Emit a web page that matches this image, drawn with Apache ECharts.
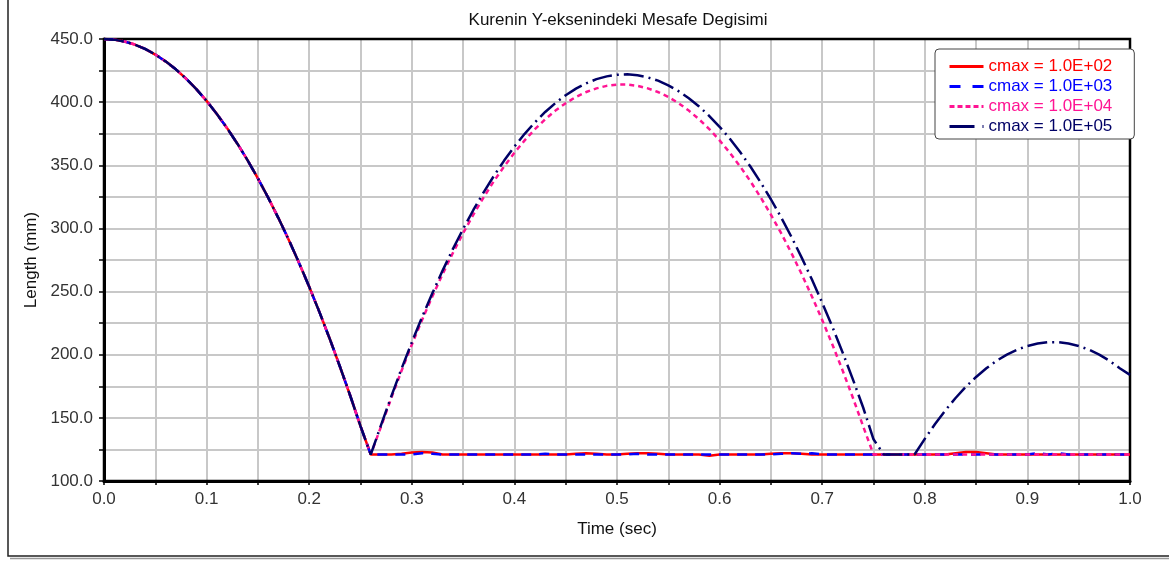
<!DOCTYPE html>
<html>
<head>
<meta charset="utf-8">
<script src="https://cdn.jsdelivr.net/npm/echarts@6/dist/echarts.min.js"></script>
<style>
html,body{margin:0;padding:0;background:#fff;}
#chart{width:1169px;height:563px;}
</style>
</head>
<body>
<div id="chart"></div>
<script>
// ---- data ----
const chartTitle = 'Kurenin Y-eksenindeki Mesafe Degisimi';
const xAxisName = 'Time (sec)';
const yAxisName = 'Length (mm)';
const seriesNames = ['cmax = 1.0E+02', 'cmax = 1.0E+03', 'cmax = 1.0E+04', 'cmax = 1.0E+05'];
const xTickLabels = ['0.0','0.1','0.2','0.3','0.4','0.5','0.6','0.7','0.8','0.9','1.0'];
const yTickLabels = ['100.0','150.0','200.0','250.0','300.0','350.0','400.0','450.0'];

const time = [
  0.00,0.01,0.02,0.03,0.04,0.05,0.06,0.07,0.08,0.09,
  0.10,0.11,0.12,0.13,0.14,0.15,0.16,0.17,0.18,0.19,
  0.20,0.21,0.22,0.23,0.24,0.25,0.26,0.27,0.28,0.29,
  0.30,0.31,0.32,0.33,0.34,0.35,0.36,0.37,0.38,0.39,
  0.40,0.41,0.42,0.43,0.44,0.45,0.46,0.47,0.48,0.49,
  0.50,0.51,0.52,0.53,0.54,0.55,0.56,0.57,0.58,0.59,
  0.60,0.61,0.62,0.63,0.64,0.65,0.66,0.67,0.68,0.69,
  0.70,0.71,0.72,0.73,0.74,0.75,0.76,0.77,0.78,0.79,
  0.80,0.81,0.82,0.83,0.84,0.85,0.86,0.87,0.88,0.89,
  0.90,0.91,0.92,0.93,0.94,0.95,0.96,0.97,0.98,0.99,
  1.00
];

// common free-fall part (t = 0.00 .. 0.26)
const fallPart = [450.0,449.5,448.0,445.6,442.2,437.7,432.3,426.0,418.6,410.3,
  401.0,390.6,379.4,367.1,353.9,339.6,324.4,308.2,291.1,272.9,
  253.8,233.7,212.6,190.5,167.5,143.4,121.0];

// t = 0.27 .. 1.00
const cmax1e2 = [121,121,121.5,122.5,123,122.5,121,121,121,121,
  121,121,121,121,121,121,121,121,121,121.5,
  122,121.5,121,121,121.5,122,122,121.5,121,121,
  121,121,120,121,121,121,121,121,121.5,122,
  122,121.5,121,121,121,121,121,121,121,121,
  121,121,121,121,121,121,122,123,123,122,
  121,121,121,121,121,121,121,121,121,121,
  121,121,121,121];
const cmax1e3 = [121,121,121,121,122,121.5,121,121,121,121,
  121,121,121,121,121,121,121.5,121,121,121,
  121,121,121,121,121,121.5,121,121,121,121,
  121,121,121,121,121,121,121,121,121,121.5,
  122,121.5,122,121,121,121,121,121,121,121,
  121,121,121,121,121,121,121,121,121,121,
  121,121,121,121,122,121,122,121,121,121,
  121,121,121,121];
const cmax1e4 = [143.1,165.7,187.3,207.9,227.5,246.1,263.8,280.5,296.2,310.9,
  324.6,337.4,349.1,359.9,369.7,378.6,386.4,393.3,399.2,404.1,
  408.0,410.9,412.9,413.9,413.9,412.9,410.9,408.0,404.1,399.2,
  393.3,386.4,378.6,369.7,359.9,349.1,337.4,324.6,310.9,296.2,
  280.5,263.8,246.1,227.5,207.9,187.3,165.7,143.1,121,121,
  121,121,121,121,121,121,121,121,121,121,
  121,121,121,121,121,121,121,121,121,121,
  121,121,121,121];
const cmax1e5 = [144.2,167.0,188.9,209.8,229.7,248.6,266.6,283.6,299.6,314.6,
  328.6,341.6,353.7,364.8,374.9,384.0,392.2,399.3,405.5,410.7,
  414.9,418.2,420.4,421.7,422.0,421.3,419.6,417.0,413.3,408.7,
  403.1,396.6,389.0,380.5,371.0,360.5,349.0,336.5,323.1,308.7,
  293.3,276.9,259.5,241.2,221.9,201.6,180.3,158.0,133.0,121,
  121,121,121,133.4,145.1,155.9,165.7,174.6,182.4,189.3,
  195.2,200.1,204.0,206.9,208.9,209.9,209.9,208.9,206.9,204.0,
  200.1,195.2,189.3,184.0];

const colors = ['#ff0000', '#0000ff', '#ff1493', '#000066'];
const dashTypes = ['solid', [10, 8], [5, 4], [20, 5, 2, 5]];
const legendDash = ['solid', [11, 12], [5, 3], [25, 8, 3, 4]];
const lineWidths = [2.5, 2.5, 2.5, 2.5];

// ---- build ----
function pairs(tail) {
  const vals = fallPart.concat(tail);
  return time.map((t, i) => [t, vals[i]]);
}
const tails = [cmax1e2, cmax1e3, cmax1e4, cmax1e5];

const chart = echarts.init(document.getElementById('chart'), null, {renderer: 'canvas'});
const FONT = 'Liberation Sans, Arial, sans-serif';
const FS = 17;

const option = {
  backgroundColor: '#ffffff',
  animation: false,
  textStyle: {fontFamily: FONT},
  title: {
    text: chartTitle,
    left: 618,
    textAlign: 'center',
    top: 12,
    padding: 0,
    textStyle: {fontFamily: FONT, fontSize: FS, fontWeight: 'normal', color: '#111'}
  },
  grid: {
    left: 104, right: 39, top: 39, bottom: 82,
    show: false
  },
  legend: {
    orient: 'vertical',
    left: 935,
    top: 49,
    padding: [9, 22, 4, 13],
    itemGap: 3,
    itemWidth: 34,
    itemHeight: 17,
    backgroundColor: '#fff',
    borderColor: '#444',
    borderWidth: 1,
    borderRadius: 4,
    itemStyle: {opacity: 0},
    textStyle: {fontFamily: FONT, fontSize: FS, lineHeight: 17},
    data: seriesNames.map((n, i) => ({
      name: n,
      textStyle: {color: colors[i]},
      lineStyle: {width: 3, type: legendDash[i], color: colors[i]}
    }))
  },
  xAxis: {
    type: 'value',
    min: 0, max: 1, interval: 0.05,
    name: xAxisName,
    nameLocation: 'middle',
    nameGap: 40,
    nameTextStyle: {fontFamily: FONT, fontSize: FS, color: '#111'},
    axisLine: {show: true, onZero: false, lineStyle: {color: '#000', width: 3}},
    axisTick: {show: true, length: 4, lineStyle: {color: '#000', width: 1.5}},
    axisLabel: {
      margin: 10, fontFamily: FONT, fontSize: FS, color: '#333',
      formatter: function (v) {
        const k = Math.round(v * 100);
        return k % 10 === 0 ? xTickLabels[k / 10] : '';
      }
    },
    splitLine: {show: true, lineStyle: {color: '#c8c8c8', width: 2}}
  },
  yAxis: {
    type: 'value',
    min: 100, max: 450, interval: 25,
    name: yAxisName,
    nameLocation: 'middle',
    nameGap: 60,
    nameTextStyle: {fontFamily: FONT, fontSize: FS, color: '#111'},
    axisLine: {show: true, onZero: false, lineStyle: {color: '#000', width: 3}},
    axisTick: {show: true, length: 5, lineStyle: {color: '#000', width: 1.5}},
    axisLabel: {
      margin: 11, fontFamily: FONT, fontSize: FS, color: '#333',
      formatter: function (v) {
        const k = Math.round(v);
        return k % 50 === 0 ? yTickLabels[(k - 100) / 50] : '';
      }
    },
    splitLine: {show: true, lineStyle: {color: '#c8c8c8', width: 2}}
  },
  graphic: [
    {type: 'rect', silent: true, z: 1, shape: {x: 104, y: 39, width: 1026, height: 442},
      style: {stroke: '#000', lineWidth: 2.5, fill: null}},
    {type: 'polyline', silent: true, shape: {points: [[8, 0], [8, 556], [1169, 556]]},
      style: {stroke: '#222', lineWidth: 1.5, fill: null}},
    {type: 'polyline', silent: true, shape: {points: [[10, 558.5], [1169, 558.5]]},
      style: {stroke: '#999', lineWidth: 1.5, fill: null}}
  ],
  series: seriesNames.map((n, i) => ({
    name: n,
    type: 'line',
    data: pairs(tails[i]),
    showSymbol: false,
    symbol: 'none',
    smooth: false,
    lineStyle: {color: colors[i], width: lineWidths[i], type: dashTypes[i]},
    itemStyle: {color: colors[i]},
    z: 2 + i
  }))
};
chart.setOption(option);
</script>
</body>
</html>
